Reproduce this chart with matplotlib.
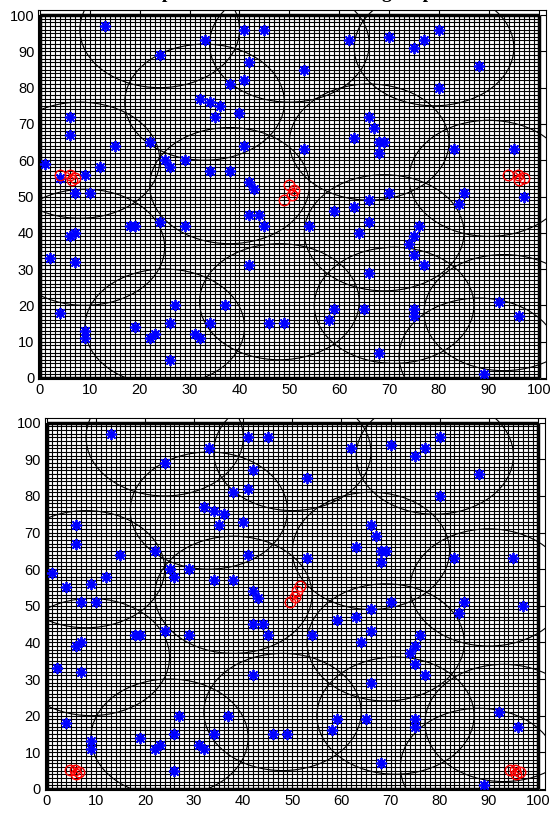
import matplotlib
matplotlib.use("Agg")
import matplotlib.pyplot as plt
from matplotlib.patches import Circle

# posiciones de los nodos (iguales en los dos paneles)
node_x = [13, 33, 41, 45, 24, 42, 41, 38, 32, 34, 36, 35, 40, 6, 6, 15, 22, 41, 1, 25,
          29, 26, 12, 9, 4, 34, 38, 42, 43, 7, 10,
          62, 70, 80, 77, 75, 88, 53, 80, 66, 67, 63, 68, 69, 68, 53, 83, 95, 70, 85, 97,
          18, 19, 24, 29, 7, 6, 2, 7, 42, 44, 45, 42, 4, 27, 37, 19, 26, 34, 9, 9,
          22, 23, 31, 32, 26, 46, 49,
          66, 84, 59, 63, 66, 54, 64, 76, 75, 74, 75, 77, 66, 59, 58, 65, 75, 75, 92, 96,
          68, 89]
node_y = [97, 93, 96, 96, 89, 87, 82, 81, 77, 76, 75, 72, 73, 72, 67, 64, 65, 64, 59, 60,
          60, 58, 58, 56, 55, 57, 57, 54, 52, 51, 51,
          93, 94, 96, 93, 91, 86, 85, 80, 72, 69, 66, 65, 65, 62, 63, 63, 63, 51, 51, 50,
          42, 42, 43, 42, 40, 39, 33, 32, 45, 45, 42, 31, 18, 20, 20, 14, 15, 15, 13, 11,
          11, 12, 12, 11, 5, 15, 15,
          49, 48, 46, 47, 43, 42, 40, 42, 39, 37, 34, 31, 29, 19, 16, 19, 19, 17, 21, 17,
          7, 1]

# circulos de los clusters
circle_x = [24, 33, 50, 79, 8, 38, 66, 90, 9, 69, 25, 48, 71, 93, 88]
circle_y = [96, 76, 92, 91, 60, 53, 65, 55, 36, 40, 14, 21, 20, 18, 6]
circle_r = [16, 16, 16, 16, 16, 16, 16, 16, 16, 16, 16, 16, 16, 16, 16]

# posiciones del sumidero
sink_top_x = [4.1, 6.1, 6.4, 7.1, 49.9, 50.9, 50.6, 48.9, 93.8, 95.8, 96.1, 97.1]
sink_top_y = [55.9, 55.9, 54.5, 55.0, 53.1, 51.7, 50.3, 48.9, 55.9, 55.9, 54.5, 55.0]
sink_bot_x = [49.5, 50.5, 51.0, 51.5, 4.7, 5.7, 6.0, 6.6, 94.3, 95.3, 95.6, 96.4]
sink_bot_y = [51.0, 52.5, 54.0, 55.5, 5.2, 5.2, 4.0, 4.6, 5.2, 5.2, 4.0, 4.6]

ticks = list(range(0, 101, 10))
titulo = "Spatial view of the clustering map"

plt.rcParams['font.family'] = ['Liberation Sans', 'DejaVu Sans']


def dibuja_panel(ax, sx, sy):
    ax.vlines(range(1, 100), 0, 100, color='k', lw=0.8)
    ax.hlines(range(1, 100), 0, 100, color='k', lw=0.8)
    ax.vlines([0, 100], 0, 100, color='k', lw=2.5)
    ax.hlines([0, 100], 0, 100, color='k', lw=2.5)
    for cx, cy, r in zip(circle_x, circle_y, circle_r):
        ax.add_patch(Circle((cx, cy), r, fill=False, ec='k', lw=0.8))
    ax.plot(node_x, node_y, ls='none', marker=(8, 2, 0), ms=8, mec='b', mew=1.3)
    ax.plot(sx, sy, ls='none', marker='o', ms=7.5, mfc='none', mec='r', mew=1)
    ax.plot(sx[1::4], sy[1::4], ls='none', marker='x', ms=5, mec='r', mew=1)
    ax.set_xlim(-0.3, 101.4)
    ax.set_ylim(-0.3, 101.4)
    ax.set_xticks(ticks)
    ax.set_yticks(ticks)
    ax.tick_params(direction='in', top=True, right=True, length=4, labelsize=10.5, pad=3)


fig = plt.figure(figsize=(5.52, 8.14), dpi=100)
ax1 = fig.add_axes([0.0697, 0.5344, 0.919, 0.4533])
ax2 = fig.add_axes([0.082, 0.0295, 0.905, 0.4575])
dibuja_panel(ax1, sink_top_x, sink_top_y)
dibuja_panel(ax2, sink_bot_x, sink_bot_y)

# el titulo queda casi fuera de la figura, como en el original
fig.text(0.53, 1.0 + 2.0 / 814, titulo, ha='center', va='baseline',
         family='Liberation Serif', weight='bold', fontsize=14)

fig.savefig("out.png", dpi=100)
